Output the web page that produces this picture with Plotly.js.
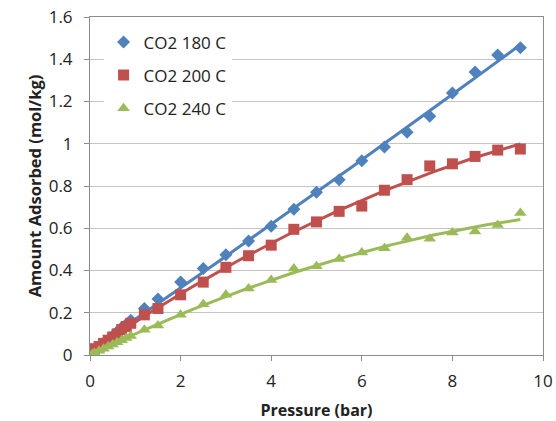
<!DOCTYPE html>
<html>
<head>
<meta charset="utf-8">
<script src="https://cdn.plot.ly/plotly-3.0.1.min.js"></script>
<style>html,body{margin:0;padding:0;background:#fff;}#chart{width:556px;height:421px;}</style>
</head>
<body>
<div id="chart"></div>
<script>
const pressure = [0.05,0.1,0.2,0.3,0.4,0.5,0.6,0.7,0.8,0.9,1.2,1.5,2,2.5,3,3.5,4,4.5,5,5.5,6,6.5,7,7.5,8,8.5,9,9.5];
const co2_180 = [0.01,0.02,0.035,0.055,0.07,0.09,0.11,0.13,0.145,0.165,0.22,0.265,0.345,0.41,0.475,0.54,0.61,0.69,0.77,0.83,0.92,0.985,1.055,1.13,1.24,1.34,1.42,1.455];
const co2_200 = [0.02,0.03,0.04,0.055,0.07,0.085,0.1,0.12,0.135,0.15,0.19,0.22,0.285,0.345,0.415,0.47,0.52,0.595,0.63,0.68,0.705,0.78,0.83,0.895,0.905,0.94,0.97,0.975];
const co2_240 = [0.005,0.01,0.02,0.03,0.04,0.05,0.06,0.07,0.08,0.09,0.12,0.14,0.19,0.24,0.285,0.315,0.355,0.41,0.42,0.455,0.485,0.505,0.555,0.55,0.58,0.585,0.615,0.672];
const seriesNames = ["CO2 180 C","CO2 200 C","CO2 240 C"];

const colors = ["#4F81BD","#C0504D","#9BBB59"];
const symbols = ["diamond","square","triangle-up"];
const sizes = [10,11,11];

// quadratic least-squares trendline (like Excel polynomial trendline)
function polyFit2(xs, ys){
  let S=[0,0,0,0,0], T=[0,0,0];
  for(let i=0;i<xs.length;i++){
    const x=xs[i], y=ys[i];
    let p=1;
    for(let k=0;k<5;k++){S[k]+=p; if(k<3)T[k]+=p*y; p*=x;}
  }
  const A=[[S[0],S[1],S[2],T[0]],[S[1],S[2],S[3],T[1]],[S[2],S[3],S[4],T[2]]];
  for(let i=0;i<3;i++){
    for(let j=i+1;j<3;j++){
      const f=A[j][i]/A[i][i];
      for(let k=i;k<4;k++)A[j][k]-=f*A[i][k];
    }
  }
  const c=[0,0,0];
  for(let i=2;i>=0;i--){
    let s=A[i][3];
    for(let k=i+1;k<3;k++)s-=A[i][k]*c[k];
    c[i]=s/A[i][i];
  }
  return c;
}

const all = [co2_180, co2_200, co2_240];
const traces = [];
all.forEach((ys, i) => {
  const c = polyFit2(pressure, ys);
  const x0 = Math.min(...pressure), x1 = Math.max(...pressure);
  const tx=[], ty=[];
  for(let k=0;k<=80;k++){const x=x0+(x1-x0)*k/80; tx.push(x); ty.push(c[0]+c[1]*x+c[2]*x*x);}
  traces.push({x:tx, y:ty, mode:'lines', line:{color:colors[i], width:3}, showlegend:false, hoverinfo:'skip'});
});
all.forEach((ys, i) => {
  traces.push({x:pressure, y:ys, mode:'markers', name:seriesNames[i], legendgroup:'g'+i,
    marker:{symbol:symbols[i], size:sizes[i], color:colors[i]}});
});

const font = "'Open Sans', 'Liberation Sans', sans-serif";
const layout = {
  width:556, height:421,
  margin:{l:90, r:13, t:17, b:66},
  paper_bgcolor:'#fff', plot_bgcolor:'#fff',
  font:{family:font, size:16, color:'#222'},
  showlegend:true,
  legend:{x:0.03, y:0.978, xanchor:'left', yanchor:'top', bgcolor:'#fff', borderwidth:0,
    font:{family:font, size:17, color:'#222'}, tracegroupgap:8, traceorder:'grouped'},
  xaxis:{range:[0,10], dtick:2, tick0:0, showgrid:false, zeroline:false,
    showline:true, linecolor:'#8c8c8c', linewidth:1, mirror:true,
    ticks:'outside', ticklen:5, tickcolor:'#8c8c8c', ticklabelstandoff:6,
    tickfont:{family:font, size:17, color:'#222'},
    title:{text:'<b>Pressure (bar)</b>', font:{family:font, size:16, color:'#222'}, standoff:14}},
  yaxis:{range:[0,1.6], dtick:0.2, tick0:0, showgrid:true, gridcolor:'#c4c4c4', gridwidth:1, zeroline:false,
    showline:true, linecolor:'#8c8c8c', linewidth:1, mirror:true,
    ticks:'outside', ticklen:5, tickcolor:'#8c8c8c', ticklabelstandoff:8,
    tickfont:{family:font, size:17, color:'#222'},
    title:{text:'<b>Amount Adsorbed (mol/kg)</b>', font:{family:font, size:16.5, color:'#222'}, standoff:2}}
};
Plotly.newPlot('chart', traces, layout, {staticPlot:true, displayModeBar:false});
</script>
</body>
</html>
